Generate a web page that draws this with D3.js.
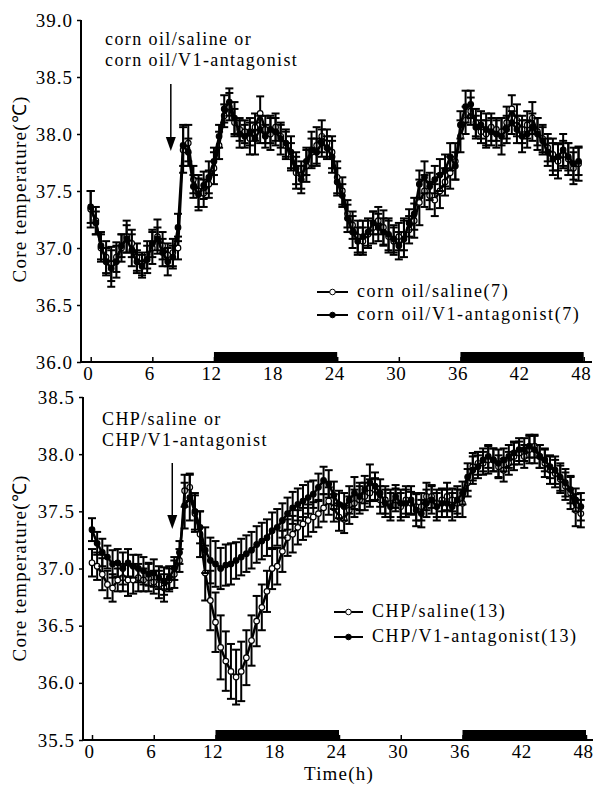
<!DOCTYPE html>
<html>
<head>
<meta charset="utf-8">
<script src="https://cdn.jsdelivr.net/npm/d3@7"></script>
<style>
  body { margin: 0; background: #fff; }
  text { font-family: "Liberation Serif", "Times New Roman", serif; fill: #000; }
</style>
</head>
<body>
<script>
// sampling times (h)
const hours = [0, 0.5, 1, 1.5, 2, 2.5, 3, 3.5, 4, 4.5, 5, 5.5, 6, 6.5, 7, 7.5, 8, 8.5,
  9, 9.5, 10, 10.5, 11, 11.5, 12, 12.5, 13, 13.5, 14, 14.5, 15, 15.5, 16, 16.5, 17, 17.5,
  18, 18.5, 19, 19.5, 20, 20.5, 21, 21.5, 22, 22.5, 23, 23.5,
  24, 24.5, 25, 25.5, 26, 26.5, 27, 27.5, 28, 28.5, 29, 29.5, 30, 30.5, 31, 31.5, 32, 32.5,
  33, 33.5, 34, 34.5, 35, 35.5,
  36, 36.5, 37, 37.5, 38, 38.5, 39, 39.5, 40, 40.5, 41, 41.5, 42, 42.5, 43, 43.5, 44, 44.5,
  45, 45.5, 46, 46.5, 47, 47.5];
const darkPeriods = [[12, 24], [36, 48]];
const injectionHour = 7.8;
const xTicks = [0, 6, 12, 18, 24, 30, 36, 42, 48];
const topYTicks = [36.0, 36.5, 37.0, 37.5, 38.0, 38.5, 39.0];
const bottomYTicks = [35.5, 36.0, 36.5, 37.0, 37.5, 38.0, 38.5];

// corn oil panel
const cornOilSaline = [37.34, 37.24, 37.00, 36.92, 36.86, 36.92, 37.00, 37.10, 37.04, 36.92, 36.86, 36.94, 37.00, 37.10, 37.02, 36.94, 36.96, 37.00,
  37.86, 37.92, 37.60, 37.50, 37.48, 37.56, 37.70, 37.90, 38.16, 38.24, 38.10, 38.04, 38.02, 37.96, 38.06, 38.18, 38.04, 38.00, 38.06, 37.98, 37.90, 37.80, 37.66, 37.64, 37.72, 37.84, 37.90, 37.98, 37.92, 37.84,
  37.62, 37.50, 37.30, 37.20, 37.10, 37.06, 37.12, 37.18, 37.24, 37.18, 37.10, 37.06, 37.10, 37.12, 37.16, 37.24, 37.40, 37.50, 37.46, 37.42, 37.50, 37.58, 37.66, 37.76,
  37.98, 38.12, 38.20, 38.10, 38.02, 38.00, 38.06, 38.04, 38.02, 38.10, 38.22, 38.12, 38.04, 38.08, 38.14, 38.02, 37.96, 37.88, 37.82, 37.76, 37.82, 37.78, 37.70, 37.74];
const cornOilSalineErr = [0.16, 0.12, 0.12, 0.14, 0.15, 0.13, 0.12, 0.14, 0.12, 0.12, 0.10, 0.12, 0.14, 0.15, 0.12, 0.10, 0.12, 0.10,
  0.20, 0.16, 0.12, 0.14, 0.12, 0.12, 0.14, 0.12, 0.10, 0.12, 0.12, 0.10, 0.10, 0.14, 0.12, 0.15, 0.12, 0.14, 0.12, 0.10, 0.12, 0.12, 0.14, 0.12, 0.14, 0.12, 0.16, 0.14, 0.12, 0.14,
  0.14, 0.12, 0.12, 0.12, 0.14, 0.12, 0.12, 0.14, 0.12, 0.15, 0.14, 0.12, 0.12, 0.14, 0.12, 0.15, 0.20, 0.14, 0.12, 0.14, 0.15, 0.12, 0.14, 0.16,
  0.14, 0.12, 0.12, 0.12, 0.10, 0.12, 0.12, 0.10, 0.12, 0.14, 0.12, 0.14, 0.12, 0.12, 0.14, 0.12, 0.12, 0.12, 0.14, 0.15, 0.12, 0.14, 0.14, 0.15];
const cornOilAntag = [37.36, 37.22, 37.02, 36.88, 36.82, 36.88, 37.02, 37.08, 36.98, 36.88, 36.84, 36.90, 37.04, 37.08, 36.96, 36.88, 36.92, 37.18,
  37.90, 37.84, 37.54, 37.47, 37.55, 37.62, 37.76, 37.98, 38.22, 38.28, 38.14, 38.00, 37.98, 38.02, 37.96, 38.04, 37.98, 38.04, 38.02, 37.96, 37.92, 37.84, 37.70, 37.60, 37.76, 37.86, 37.84, 37.92, 37.88, 37.80,
  37.58, 37.46, 37.26, 37.14, 37.06, 37.10, 37.14, 37.22, 37.18, 37.14, 37.12, 37.08, 37.02, 37.08, 37.22, 37.30, 37.56, 37.62, 37.54, 37.60, 37.64, 37.68, 37.80, 37.72,
  38.08, 38.24, 38.26, 38.06, 38.08, 38.04, 38.02, 38.00, 37.98, 38.04, 38.10, 38.04, 37.98, 38.00, 38.06, 38.00, 37.94, 37.84, 37.78, 37.80, 37.86, 37.80, 37.74, 37.76];
const cornOilAntagErr = [0.14, 0.10, 0.12, 0.12, 0.16, 0.14, 0.10, 0.12, 0.14, 0.10, 0.10, 0.12, 0.12, 0.10, 0.12, 0.12, 0.10, 0.12,
  0.18, 0.12, 0.10, 0.14, 0.12, 0.14, 0.12, 0.10, 0.12, 0.12, 0.14, 0.12, 0.10, 0.12, 0.14, 0.12, 0.10, 0.12, 0.12, 0.14, 0.12, 0.14, 0.14, 0.12, 0.12, 0.16, 0.12, 0.12, 0.10, 0.14,
  0.12, 0.10, 0.12, 0.14, 0.12, 0.14, 0.12, 0.10, 0.12, 0.12, 0.14, 0.12, 0.12, 0.16, 0.12, 0.14, 0.12, 0.14, 0.12, 0.12, 0.14, 0.14, 0.12, 0.12,
  0.12, 0.14, 0.12, 0.10, 0.12, 0.14, 0.12, 0.12, 0.16, 0.12, 0.10, 0.12, 0.14, 0.12, 0.12, 0.14, 0.12, 0.12, 0.14, 0.12, 0.14, 0.12, 0.14, 0.12];

// CHP panel
const chpSaline = [37.05, 37.02, 36.95, 36.86, 36.83, 36.90, 36.92, 36.90, 36.90, 36.92, 36.90, 36.92, 36.88, 36.86, 36.83, 36.90, 36.95, 37.07,
  37.68, 37.71, 37.48, 37.30, 36.96, 36.72, 36.53, 36.31, 36.19, 36.10, 36.05, 36.10, 36.22, 36.37, 36.54, 36.66, 36.80, 37.00, 37.02, 37.15, 37.27, 37.30, 37.36, 37.39, 37.42, 37.45, 37.48, 37.53, 37.59, 37.53,
  37.45, 37.43, 37.51, 37.57, 37.60, 37.63, 37.66, 37.69, 37.60, 37.60, 37.57, 37.60, 37.54, 37.60, 37.57, 37.54, 37.54, 37.63, 37.63, 37.57, 37.60, 37.63, 37.60, 37.57,
  37.57, 37.75, 37.89, 37.92, 37.92, 37.95, 37.95, 37.89, 37.86, 37.92, 37.98, 38.01, 37.98, 38.04, 38.07, 37.98, 37.92, 37.86, 37.83, 37.78, 37.72, 37.66, 37.51, 37.48];
const chpSalineErr = [0.12, 0.12, 0.14, 0.12, 0.12, 0.10, 0.12, 0.14, 0.12, 0.12, 0.10, 0.12, 0.10, 0.12, 0.12, 0.10, 0.12, 0.10,
  0.14, 0.12, 0.16, 0.20, 0.24, 0.26, 0.26, 0.28, 0.26, 0.24, 0.24, 0.26, 0.24, 0.22, 0.22, 0.20, 0.18, 0.18, 0.16, 0.18, 0.16, 0.16, 0.15, 0.14, 0.14, 0.13, 0.12, 0.12, 0.12, 0.12,
  0.12, 0.12, 0.12, 0.12, 0.12, 0.12, 0.12, 0.10, 0.12, 0.12, 0.12, 0.10, 0.12, 0.12, 0.10, 0.12, 0.12, 0.12, 0.10, 0.12, 0.10, 0.12, 0.10, 0.12,
  0.12, 0.12, 0.12, 0.10, 0.10, 0.12, 0.10, 0.10, 0.10, 0.10, 0.12, 0.10, 0.10, 0.12, 0.10, 0.10, 0.12, 0.12, 0.12, 0.12, 0.12, 0.14, 0.14, 0.12];
const chpAntag = [37.34, 37.22, 37.14, 37.10, 37.04, 37.05, 37.00, 37.05, 37.02, 37.00, 36.98, 36.95, 36.96, 36.92, 36.89, 36.92, 37.00, 37.14,
  37.55, 37.62, 37.50, 37.36, 37.16, 37.07, 37.04, 37.00, 37.03, 37.04, 37.07, 37.10, 37.13, 37.16, 37.21, 37.24, 37.27, 37.33, 37.36, 37.42, 37.48, 37.53, 37.56, 37.59, 37.62, 37.65, 37.71, 37.77, 37.74, 37.64,
  37.56, 37.54, 37.60, 37.66, 37.63, 37.69, 37.75, 37.72, 37.66, 37.57, 37.54, 37.63, 37.57, 37.57, 37.60, 37.51, 37.48, 37.57, 37.60, 37.54, 37.57, 37.57, 37.54, 37.60,
  37.66, 37.80, 37.86, 37.89, 37.95, 37.98, 37.95, 37.92, 37.95, 37.98, 38.01, 38.04, 38.04, 38.07, 38.04, 37.98, 37.95, 37.89, 37.86, 37.80, 37.75, 37.69, 37.60, 37.54];
const chpAntagErr = [0.10, 0.10, 0.12, 0.10, 0.12, 0.12, 0.14, 0.12, 0.10, 0.12, 0.12, 0.10, 0.12, 0.10, 0.12, 0.10, 0.10, 0.10,
  0.20, 0.20, 0.16, 0.14, 0.20, 0.20, 0.20, 0.18, 0.18, 0.18, 0.16, 0.16, 0.16, 0.16, 0.16, 0.16, 0.16, 0.16, 0.16, 0.15, 0.14, 0.14, 0.14, 0.14, 0.14, 0.12, 0.12, 0.12, 0.12, 0.12,
  0.12, 0.12, 0.12, 0.14, 0.12, 0.12, 0.16, 0.12, 0.12, 0.12, 0.12, 0.10, 0.12, 0.12, 0.12, 0.14, 0.12, 0.12, 0.12, 0.12, 0.12, 0.12, 0.12, 0.12,
  0.10, 0.12, 0.12, 0.10, 0.10, 0.10, 0.10, 0.12, 0.10, 0.10, 0.10, 0.10, 0.10, 0.10, 0.12, 0.10, 0.10, 0.10, 0.12, 0.12, 0.12, 0.12, 0.10, 0.12];

const topLabels = ["corn oil/saline(7)", "corn oil/V1-antagonist(7)"];
const bottomLabels = ["CHP/saline(13)", "CHP/V1-antagonist(13)"];
const topNote = ["corn oil/saline or", "corn oil/V1-antagonist"];
const bottomNote = ["CHP/saline or", "CHP/V1-antagonist"];
const yTitle = "Core temperature(\u2103)";
const xTitle = "Time(h)";

// layout
const width = 595;
const height = 786;
const capWidth = 8;
const markerRadius = 2.8;
const barHeight = 10;

const svg = d3.select("body").append("svg")
  .attr("width", width)
  .attr("height", height);

svg.append("rect").attr("width", width).attr("height", height).attr("fill", "#fff");

function drawPanel(p) {
  const x = d3.scaleLinear().domain([0, 48]).range([p.x0, p.x1]);
  const y = d3.scaleLinear().domain(p.yDomain).range([p.yBottom, p.yTop]);
  const g = svg.append("g");

  // dark phase bars
  g.selectAll(".dark")
    .data(darkPeriods)
    .enter()
    .append("rect")
    .attr("x", function(d) { return x(d[0]); })
    .attr("width", function(d) { return x(d[1]) - x(d[0]); })
    .attr("y", p.yBottom - barHeight)
    .attr("height", barHeight)
    .attr("fill", "#000");

  // axes
  const yAxis = d3.axisLeft(y)
    .tickValues(p.yTicks)
    .tickSize(4)
    .tickPadding(4)
    .tickFormat(d3.format(".1f"));
  const ya = g.append("g").attr("transform", "translate(" + p.axisX + ",0)").call(yAxis);
  ya.select(".domain").remove();
  ya.selectAll("line").attr("stroke-width", 1.5);
  ya.selectAll("text").style("font-size", "19px").style("letter-spacing", "1px").attr("font-family", null);

  const xAxis = d3.axisBottom(x)
    .tickValues(xTicks)
    .tickSizeInner(-5)
    .tickSizeOuter(0)
    .tickPadding(5);
  const xa = g.append("g").attr("transform", "translate(0," + p.yBottom + ")").call(xAxis);
  xa.select(".domain").remove();
  xa.selectAll("line").attr("stroke-width", 1.5);
  xa.selectAll("text")
    .attr("dx", -3)
    .style("font-size", "19px")
    .style("letter-spacing", "0.5px")
    .attr("font-family", null);

  g.append("line")
    .attr("x1", p.axisX).attr("x2", p.axisX)
    .attr("y1", p.yTop).attr("y2", p.yBottom)
    .attr("stroke", "#000").attr("stroke-width", 2);
  g.append("line")
    .attr("x1", p.axisX).attr("x2", p.axisEnd)
    .attr("y1", p.yBottom).attr("y2", p.yBottom)
    .attr("stroke", "#000").attr("stroke-width", 2);

  g.append("text")
    .attr("transform", "translate(26," + p.titleY + ") rotate(-90)")
    .attr("text-anchor", "middle")
    .style("font-size", "19px")
    .style("letter-spacing", "1.2px")
    .text(yTitle);

  // series
  p.series.forEach(function(s) {
    const pts = hours.map(function(h, i) { return { h: h, v: s.values[i], e: s.errors[i] }; });
    const eb = g.append("g").attr("stroke", "#000").attr("stroke-width", 2);
    eb.selectAll(".stem")
      .data(pts)
      .enter()
      .append("line")
      .attr("x1", function(d) { return x(d.h); })
      .attr("x2", function(d) { return x(d.h); })
      .attr("y1", function(d) { return y(d.v - d.e); })
      .attr("y2", function(d) { return y(d.v + d.e); });
    eb.selectAll(".capTop")
      .data(pts)
      .enter()
      .append("line")
      .attr("x1", function(d) { return x(d.h) - capWidth / 2; })
      .attr("x2", function(d) { return x(d.h) + capWidth / 2; })
      .attr("y1", function(d) { return y(d.v + d.e); })
      .attr("y2", function(d) { return y(d.v + d.e); });
    eb.selectAll(".capBottom")
      .data(pts)
      .enter()
      .append("line")
      .attr("x1", function(d) { return x(d.h) - capWidth / 2; })
      .attr("x2", function(d) { return x(d.h) + capWidth / 2; })
      .attr("y1", function(d) { return y(d.v - d.e); })
      .attr("y2", function(d) { return y(d.v - d.e); });

    g.append("path")
      .datum(pts)
      .attr("fill", "none")
      .attr("stroke", "#000")
      .attr("stroke-width", 2.5)
      .attr("d", d3.line()
        .x(function(d) { return x(d.h); })
        .y(function(d) { return y(d.v); }));

    g.selectAll(null)
      .data(pts)
      .enter()
      .append("circle")
      .attr("cx", function(d) { return x(d.h); })
      .attr("cy", function(d) { return y(d.v); })
      .attr("r", markerRadius)
      .attr("fill", s.open ? "#fff" : "#000")
      .attr("stroke", "#000")
      .attr("stroke-width", 1.2);
  });

  // injection arrow
  const ax = x(injectionHour);
  g.append("line")
    .attr("x1", ax).attr("x2", ax)
    .attr("y1", p.arrowTop).attr("y2", p.arrowTip - 10)
    .attr("stroke", "#000").attr("stroke-width", 1.5);
  g.append("path")
    .attr("d", "M" + (ax - 5) + "," + (p.arrowTip - 14) + "L" + (ax + 5) + "," + (p.arrowTip - 14) + "L" + ax + "," + p.arrowTip + "Z")
    .attr("fill", "#000");

  g.selectAll(".note")
    .data(p.note)
    .enter()
    .append("text")
    .attr("x", p.noteX)
    .attr("y", function(d, i) { return p.noteY[i]; })
    .style("font-size", "18px")
    .style("letter-spacing", "1.4px")
    .text(function(d) { return d; });

  // legend
  const lg = g.selectAll(".legend")
    .data(p.series)
    .enter()
    .append("g")
    .attr("transform", function(d, i) { return "translate(" + p.legendX + "," + p.legendY[i] + ")"; });
  lg.append("line")
    .attr("x1", 0).attr("x2", p.legendLine)
    .attr("stroke", "#000").attr("stroke-width", 2);
  lg.append("circle")
    .attr("cx", p.legendLine / 2)
    .attr("r", markerRadius)
    .attr("fill", function(d) { return d.open ? "#fff" : "#000"; })
    .attr("stroke", "#000");
  lg.append("text")
    .attr("x", p.legendLine + 9)
    .attr("y", 5)
    .style("font-size", "18px")
    .style("letter-spacing", "1.6px")
    .text(function(d) { return d.label; });
}

drawPanel({
  x0: 90.7, x1: 583.7, axisX: 81, axisEnd: 592,
  yTop: 20, yBottom: 362, yDomain: [36, 39], yTicks: topYTicks, titleY: 189,
  arrowTop: 84, arrowTip: 151,
  note: topNote, noteX: 105, noteY: [45, 66],
  legendX: 317, legendY: [292, 315], legendLine: 31,
  series: [
    { values: cornOilSaline, errors: cornOilSalineErr, open: true, label: topLabels[0] },
    { values: cornOilAntag, errors: cornOilAntagErr, open: false, label: topLabels[1] }
  ]
});

drawPanel({
  x0: 92, x1: 586, axisX: 83, axisEnd: 593,
  yTop: 397, yBottom: 740, yDomain: [35.5, 38.5], yTicks: bottomYTicks, titleY: 568,
  arrowTop: 463, arrowTip: 529,
  note: bottomNote, noteX: 102, noteY: [425, 446],
  legendX: 334, legendY: [612, 637], legendLine: 29,
  series: [
    { values: chpSaline, errors: chpSalineErr, open: true, label: bottomLabels[0] },
    { values: chpAntag, errors: chpAntagErr, open: false, label: bottomLabels[1] }
  ]
});

svg.append("text")
  .attr("x", 339)
  .attr("y", 780)
  .attr("text-anchor", "middle")
  .style("font-size", "19px")
  .style("letter-spacing", "1.2px")
  .text(xTitle);
</script>
</body>
</html>
